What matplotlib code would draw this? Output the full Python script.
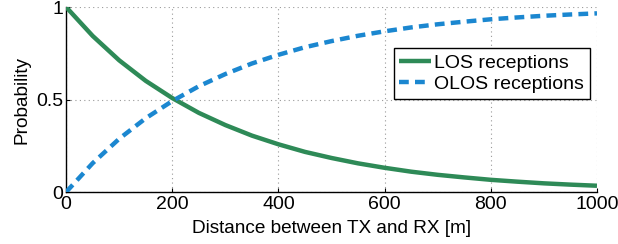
import matplotlib
matplotlib.use("Agg")
import matplotlib.pyplot as plt

# values
distance_m = [0, 50, 100, 150, 200, 250, 300, 350, 400, 450, 500,
              550, 600, 650, 700, 750, 800, 850, 900, 950, 1000]
p_los = [1.0, 0.844, 0.712, 0.601, 0.508, 0.428, 0.362, 0.305, 0.258, 0.217, 0.184,
         0.155, 0.131, 0.110, 0.093, 0.079, 0.066, 0.056, 0.047, 0.040, 0.034]
p_olos = [0.0, 0.156, 0.288, 0.399, 0.492, 0.572, 0.638, 0.695, 0.742, 0.783, 0.816,
          0.845, 0.869, 0.890, 0.907, 0.921, 0.934, 0.944, 0.953, 0.960, 0.966]
xticks = [0, 200, 400, 600, 800, 1000]
yticks = [0, 0.5, 1]
ytick_labels = ["0", "0.5", "1"]

plt.rcParams["font.family"] = ["Liberation Sans", "DejaVu Sans"]
plt.rcParams["font.size"] = 14

fig = plt.figure(figsize=(6.18, 2.44), dpi=100)
ax = fig.add_axes([0.107, 0.213, 0.859, 0.758])

ax.plot(distance_m, p_los, color="#2E8A57", lw=3.2, label="LOS receptions",
        solid_capstyle="butt", zorder=3)
ax.plot(distance_m, p_olos, color="#1B87D0", lw=3.2, ls=(0, (2.2, 1.4)),
        label="OLOS receptions", zorder=3)

ax.set_xlim(0, 1000)
ax.set_ylim(0, 1)
ax.set_xticks(xticks)
ax.set_yticks(yticks)
ax.set_yticklabels(ytick_labels)
ax.tick_params(direction="in", length=3, width=0.8)
ax.tick_params(axis="x", pad=3)
ax.tick_params(axis="y", pad=2)
ax.grid(True, ls=(0, (1, 3)), color="0.6", lw=0.8)
for s in ("top", "right"):
    ax.spines[s].set_visible(False)
for s in ("left", "bottom"):
    ax.spines[s].set_linewidth(1.0)

ax.set_xlabel("Distance between TX and RX [m]", fontsize=13.7, labelpad=5)
ax.set_ylabel("Probability", fontsize=13.7, labelpad=4)

leg = ax.legend(loc="upper right", bbox_to_anchor=(0.987, 0.777), fancybox=False,
                framealpha=1, edgecolor="black", borderpad=0.3, labelspacing=0.2,
                handlelength=1.65, handletextpad=0.15, borderaxespad=0)
leg.get_frame().set_linewidth(1.0)

fig.savefig("out.png", dpi=100)
